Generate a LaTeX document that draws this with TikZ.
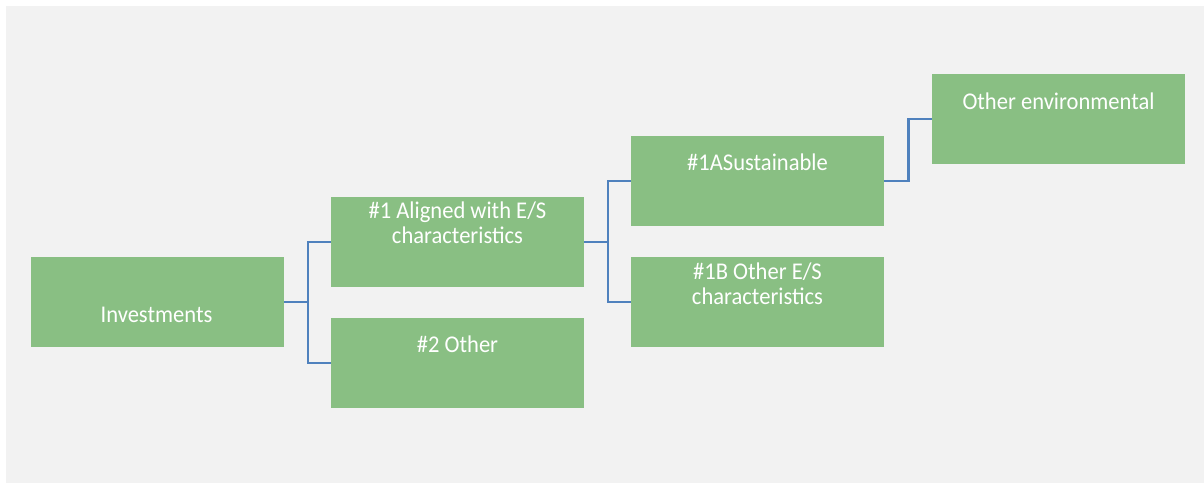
\documentclass[tikz,border=0pt]{standalone}
\usepackage{fontspec}
\setmainfont{Carlito}[FakeStretch=0.94]
\definecolor{bggray}{RGB}{242,242,242}
\definecolor{boxgreen}{RGB}{137,191,131}
\definecolor{linkblue}{RGB}{79,129,189}
\tikzset{
  greenbox/.style={fill=boxgreen, draw=none, minimum width=253pt, minimum height=90pt, inner sep=0pt, anchor=north west},
  boxtext/.style={text=white, font=\fontsize{24}{25}\selectfont, align=center, anchor=base, inner sep=0pt},
  link/.style={draw=linkblue, line width=2.5pt}
}
\begin{document}
\begin{tikzpicture}[x=1pt,y=-1pt]
\useasboundingbox (0,0) rectangle (1204,484);
\fill[white] (0,0) rectangle (1204,484);
\fill[bggray] (6,6) rectangle (1204,483);
% boxes
\node[greenbox] (inv) at (31,257) {};
\node[greenbox] (al) at (331,197) {};
\node[greenbox] (ot) at (331,318) {};
\node[greenbox] (sus) at (631,136) {};
\node[greenbox] (oes) at (631,257) {};
\node[greenbox] (env) at (932,74) {};
% texts
\node[boxtext] (tinv) at (156.5,322) {Investments};
\node[boxtext] (tal1) at (457.5,218.3) {\#1 Aligned with E/S};
\node[boxtext] (tal2) at (457.5,243.3) {characteristics};
\node[boxtext] (tot) at (457.5,352.3) {\#2 Other};
\node[boxtext] (tsus) at (757.5,170) {\#1ASustainable};
\node[boxtext] (toes1) at (757.5,279.3) {\#1B Other E/S};
\node[boxtext] (toes2) at (757.5,304.3) {characteristics};
\node[boxtext] (tenv) at (1058.5,109.3) {Other environmental};
% connectors
\draw[link] (inv.east) -- ++(23.5,0) |- (al.west);
\draw[link] (inv.east) -- ++(23.5,0) |- (ot.west);
\draw[link] (al.east) -- ++(23.5,0) |- (sus.west);
\draw[link] (al.east) -- ++(23.5,0) |- (oes.west);
\draw[link] (sus.east) -- ++(24,0) |- (env.west);
\end{tikzpicture}
\end{document}
